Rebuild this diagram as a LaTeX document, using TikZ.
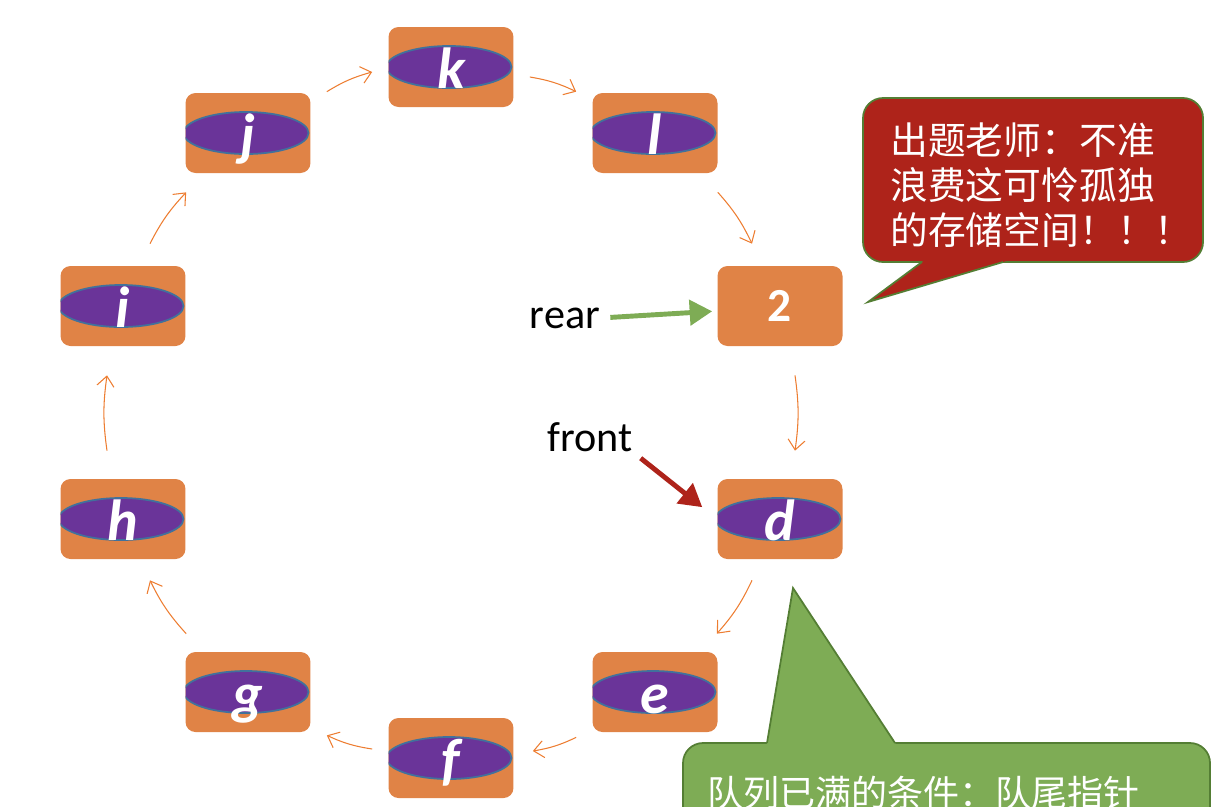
\documentclass[tikz,border=0pt]{standalone}
\usepackage{fontspec}
\setmainfont{Carlito}
\newfontfamily\cjk{Noto Sans CJK SC}
\usepackage{xcolor}
\definecolor{qorange}{RGB}{224,131,70}
\definecolor{qpurple}{RGB}{106,52,153}
\definecolor{qrim}{RGB}{65,113,156}
\definecolor{qlink}{RGB}{237,125,49}
\definecolor{qgreen}{RGB}{126,172,85}
\definecolor{qred}{RGB}{174,35,26}
\definecolor{qborder}{RGB}{84,126,52}
\usetikzlibrary{arrows.meta, positioning, calc}

\tikzset{
  cell/.style={fill=qorange, rounded corners=0.2cm, minimum width=2.5cm, minimum height=1.6cm,
    inner sep=0pt, text=white},
  full/.style={cell, font=\fontsize{33}{33}\selectfont\bfseries\itshape, text height=0.84cm, text depth=0cm,
    path picture={\draw[qrim, line width=1pt, fill=qpurple] ([xshift=-0.04cm]path picture bounding box.center) ellipse (1.25cm and 0.42cm);}},
  link/.style={qlink, line width=0.6pt, -{Straight Barb[length=0.2cm, width=0.34cm]}, bend left=8},
  tag/.style={font=\fontsize{24}{24}\selectfont, inner sep=0pt},
  note/.style={font=\cjk\fontsize{21.5}{25.6}\selectfont, text=white, align=left, inner sep=0pt},
  ptr/.style={line width=2.8pt, -{Triangle[length=0.45cm, width=0.5cm]}},
  bubble/.style={draw=qborder, line width=1pt}
}

\begin{document}
\begin{tikzpicture}[x=0.02cm, y=-0.02cm]
  \useasboundingbox (0,0) rectangle (1212,806);
  \clip (0,0) rectangle (1212,806);

  % Ring of cells
  \node[full] (k) at (451,67) {k};
  \node[full] (l) at (655,133) {l};
  \node[cell, font=\fontsize{27}{27}\selectfont\bfseries] (two) at (780,306) {2};
  \node[full] (d) at (780,519) {d};
  \node[full] (e) at (655,692) {e};
  \node[full] (f) at (451,758) {f};
  \node[full] (g) at (248,692) {g};
  \node[full] (h) at (123,519) {h};
  \node[full] (i) at (123,306) {i};
  \node[full] (j) at (248,133) {j};

  % Links round the ring
  \draw[link] ([shift={(16,-1)}]j.north east) to ([shift={(-16,5)}]k.west);
  \draw[link] ([shift={(16,10)}]k.east) to ([shift={(-16,-1)}]l.north west);
  \draw[link] ([shift={(0,19)}]l.south east) to ([shift={(-28,-22)}]two.north);
  \draw[link] ([shift={(15,29)}]two.south) to ([shift={(15,-28)}]d.north);
  \draw[link] ([shift={(-28,21)}]d.south) to ([shift={(-1,-18)}]e.north east);
  \draw[link] ([shift={(-16,5)}]e.south west) to ([shift={(19,-7)}]f.east);
  \draw[link] ([shift={(-16,-9)}]f.west) to ([shift={(16,3)}]g.south east);
  \draw[link] ([shift={(1,-18)}]g.north west) to ([shift={(27,21)}]h.south);
  \draw[link] ([shift={(-16,-28)}]h.north) to ([shift={(-16,29)}]i.south);
  \draw[link] ([shift={(27,-22)}]i.north) to ([shift={(1,19)}]j.south west);

  % Pointers
  \node[tag] (rear) at (565,318) {rear};
  \node[tag] (front) at (590,437) {front};
  \draw[ptr, qgreen, shorten <=0.2cm, shorten >=0.1cm] (rear.east) -- ([shift={(0,5)}]two.west);
  \draw[ptr, qred, shorten <=0.2cm, shorten >=0.38cm] (front.south east) -- (d.west);

  % Red bubble
  \coordinate (rtip) at (868,302);
  \coordinate (ra) at (922,262);
  \coordinate (rb) at (1003,262);
  \filldraw[bubble, fill=qred, rounded corners=0.4cm] (863,98) rectangle (1203,262);
  \fill[qred] (rtip) -- ($(rtip)!1.1!(ra)$) -- ($(rtip)!1.05!(rb)$) -- cycle;
  \draw[bubble] (ra) -- (rtip) -- (rb);
  \node[note, anchor=north west] (warn) at (890,122) {出题老师：不准\\浪费这可怜孤独\\的存储空间！！！};

  % Green bubble
  \coordinate (gtip) at (793,588);
  \coordinate (ga) at (767,743);
  \coordinate (gb) at (895,743);
  \filldraw[bubble, fill=qgreen, rounded corners=0.4cm] (683,743) rectangle (1210,850);
  \fill[qgreen] (gtip) -- ($(gtip)!1.03!(ga)$) -- ($(gtip)!1.03!(gb)$) -- cycle;
  \draw[bubble] (ga) -- (gtip) -- (gb);
  \node[note, font=\cjk\fontsize{20.5}{24}\selectfont, anchor=north west] (cond) at (707,776) {队列已满的条件：队尾指针};
\end{tikzpicture}
\end{document}
